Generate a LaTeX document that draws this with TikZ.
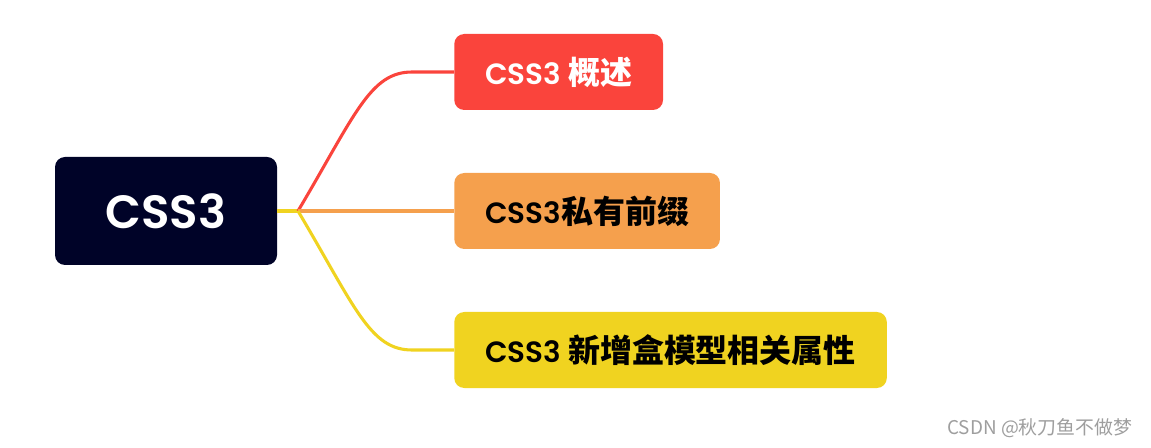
\documentclass[tikz,border=0pt]{standalone}
\usepackage{fontspec}
\setmainfont{Poppins}[BoldFont={Poppins SemiBold}]
\newfontfamily\cjk{Noto Sans CJK SC}[Scale=1.09]
\usetikzlibrary{positioning}
\definecolor{rootbg}{HTML}{000328}
\definecolor{redbg}{HTML}{FA443C}
\definecolor{orangebg}{HTML}{F5A04D}
\definecolor{yellowbg}{HTML}{F0D320}
\begin{document}
\begin{tikzpicture}[x=0.75pt, y=-0.75pt,
  root/.style={fill=rootbg, text=white, rounded corners=7.5pt, minimum width=166.5pt,
    minimum height=81pt, font=\fontsize{35}{40}\selectfont\bfseries},
  topic/.style={rounded corners=7.5pt, anchor=west, inner xsep=23.25pt, minimum height=57pt,
    font=\fontsize{22}{26}\selectfont\bfseries},
  branch/.style={line width=2.3pt}]
  \useasboundingbox (0,0) rectangle (1151,448);
  \node[root] (css) at (166,211) {CSS3};
  \node[topic, fill=redbg, text=white] (intro) at (454,72) {CSS3 {\cjk 概述}};
  \node[topic, fill=orangebg] (prefix) at (454,211) {CSS3{\cjk 私有前缀}};
  \node[topic, fill=yellowbg] (box) at (454,350) {CSS3 {\cjk 新增盒模型相关属性}};
  \coordinate (fork) at (298,211);
  \draw[yellowbg, line width=3.2pt] (css.east) -- (fork);
  \draw[branch, redbg] (fork) .. controls (355,115) and (370,72) .. (412,72) -- (intro.west);
  \draw[branch, orangebg] (fork) -- (prefix.west);
  \draw[branch, yellowbg] (fork) .. controls (355,307) and (370,350) .. (412,350) -- (box.west);
  \node[anchor=east, text=black!38, font=\cjk\fontsize{13}{15}\selectfont] (mark) at (1137,428) {CSDN @秋刀鱼不做梦};
\end{tikzpicture}
\end{document}
